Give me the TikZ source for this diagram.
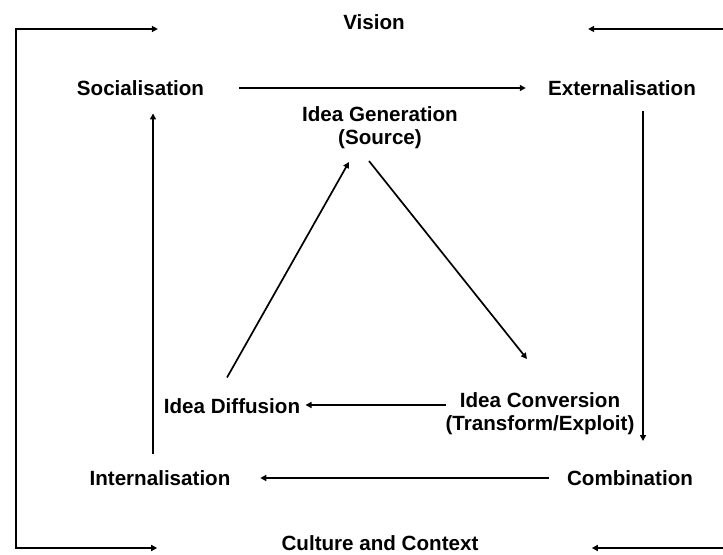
\documentclass[tikz,border=0pt]{standalone}
\usepackage{fontspec}
\setsansfont{Liberation Sans}
\usetikzlibrary{arrows.meta, positioning}

\begin{document}
\begin{tikzpicture}[
  x=0.5pt, y=-0.5pt,
  % === GRUNDSTILE ===
  % Begriffe (Knoten ohne Rahmen)
  term/.style={
    inner sep=0pt,
    align=center,
    font=\sffamily\bfseries\fontsize{10.3}{11.5}\selectfont
  },
  % Pfeile
  flowarrow/.style={
    draw=black,
    line width=0.85pt,
    -{Triangle[length=3pt,width=3pt]}
  },
  framearrow/.style={
    draw=black,
    line width=0.85pt,
    {Triangle[length=3pt,width=3pt]}-{Triangle[length=3pt,width=3pt]}
  }
]

% =============================================================================
% HINTERGRUND
% =============================================================================
\fill[white] (0,0) rectangle (723,555);
\useasboundingbox (0,0) rectangle (723,555);

% =============================================================================
% RAHMEN: Vision / Culture and Context
% =============================================================================
\node[term] (vision)  at (374,22)  {Vision};
\node[term] (culture) at (380,543) {Culture and Context};

\coordinate (frame-tl) at (16,29);
\coordinate (frame-bl) at (16,548);
\coordinate (frame-tr) at (723,29);
\coordinate (frame-br) at (723,548);

\draw[framearrow] ([xshift=-92.5pt]vision.west |- frame-tl) -- (frame-tl)
  -- (frame-bl) -- ([xshift=-62pt]culture.west |- frame-bl);
\draw[flowarrow] (frame-tr) -- ([xshift=91.5pt]vision.east |- frame-tr);
\draw[flowarrow] (frame-br) -- ([xshift=56.5pt]culture.east |- frame-br);

% =============================================================================
% WISSENSSPIRALE (aussen)
% =============================================================================
\node[term] (soc) at (140.5,88) {Socialisation};
\node[term] (ext) at (622,88)   {Externalisation};
\node[term] (comb) at (630,478) {Combination};
\node[term] (int) at (160,478)  {Internalisation};

\draw[flowarrow] ([xshift=17.5pt]soc.east) -- ([xshift=-11pt]ext.west);
\draw[flowarrow] ([shift={(21,15)}]ext.south) -- ([shift={(13,-29)}]comb.north);
\draw[flowarrow] ([xshift=-9pt]comb.west) -- ([xshift=14.75pt]int.east);
\draw[flowarrow] ([shift={(-7,-16.5)}]int.north) -- ([shift={(12.5,17.5)}]soc.south);

% =============================================================================
% IDEENZYKLUS (innen)
% =============================================================================
\node[term] (gen)  at (380,128) {Idea Generation\\(Source)};
\node[term] (conv) at (540,414) {Idea Conversion\\(Transform/Exploit)};
\node[term] (diff) at (232,406) {Idea Diffusion};

\draw[flowarrow] ([shift={(-11,11.5)}]gen.south) -- ([shift={(-13,-33.5)}]conv.north);
\draw[flowarrow] ([shift={(1,-9)}]conv.west) -- ([shift={(5,-1)}]diff.east);
\draw[flowarrow] ([shift={(-5,-20.5)}]diff.north) -- ([shift={(-31,12.5)}]gen.south);

\end{tikzpicture}
\end{document}
